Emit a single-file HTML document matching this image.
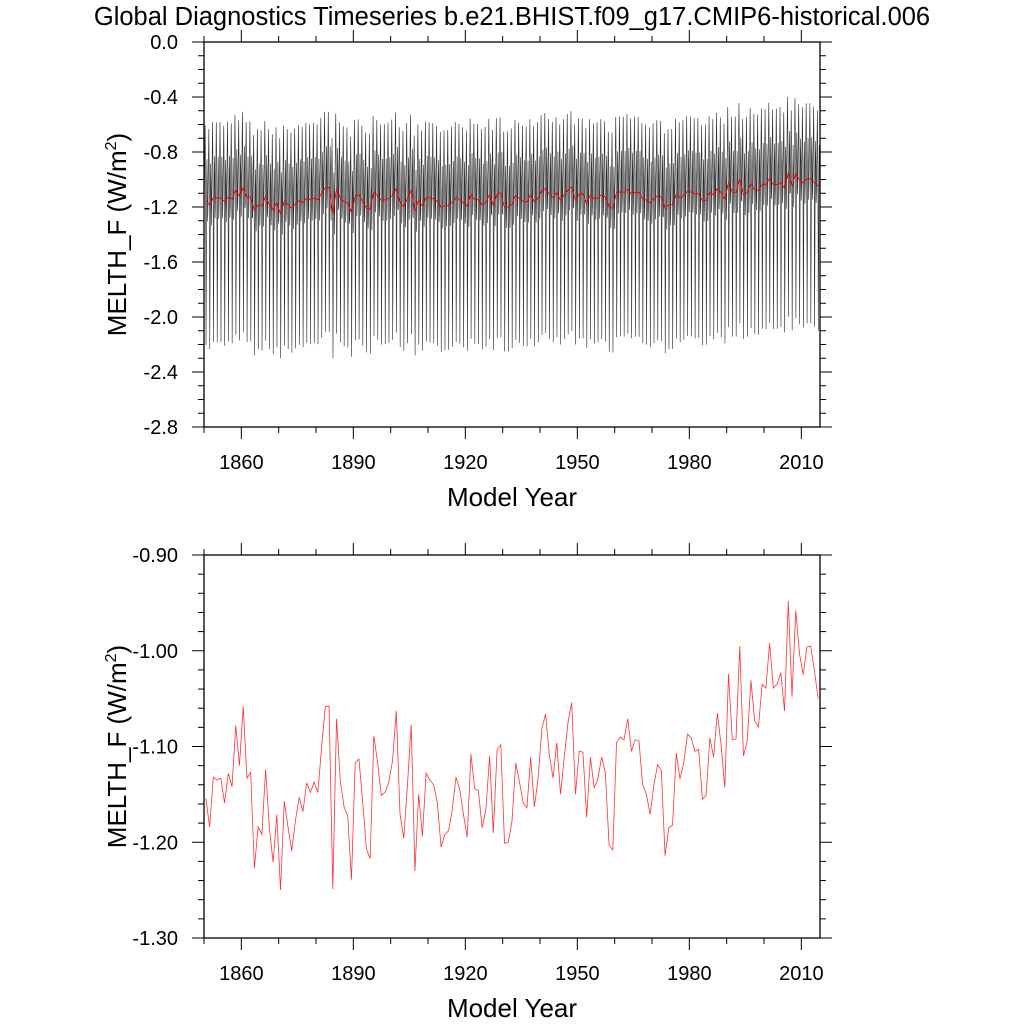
<!DOCTYPE html>
<html><head><meta charset="utf-8"><style>
html,body{margin:0;padding:0;background:#fff;}
svg{display:block;font-family:"Liberation Sans",sans-serif;}
</style></head><body>
<svg id="svg" width="1024" height="1024" viewBox="0 0 1024 1024" xmlns="http://www.w3.org/2000/svg">
<text x="512" y="25" font-size="25.5" text-anchor="middle">Global Diagnostics Timeseries b.e21.BHIST.f09_g17.CMIP6-historical.006</text>
<g id="top"></g>
<g id="bot"></g>
</svg>
<script>
const years = [];
for (let y = 1850; y <= 2014; y++) years.push(y);
const annualMean = [
-1.154,-1.184,-1.132,-1.135,-1.133,-1.159,-1.128,-1.142,-1.078,-1.120,
-1.058,-1.133,-1.127,-1.227,-1.184,-1.192,-1.124,-1.184,-1.221,-1.171,
-1.250,-1.157,-1.184,-1.209,-1.177,-1.153,-1.168,-1.138,-1.148,-1.137,
-1.148,-1.101,-1.058,-1.058,-1.249,-1.071,-1.135,-1.163,-1.172,-1.239,
-1.117,-1.113,-1.158,-1.207,-1.217,-1.089,-1.117,-1.151,-1.148,-1.137,
-1.115,-1.063,-1.170,-1.196,-1.140,-1.077,-1.230,-1.150,-1.194,-1.128,
-1.135,-1.140,-1.159,-1.205,-1.192,-1.188,-1.166,-1.132,-1.145,-1.171,
-1.195,-1.108,-1.144,-1.146,-1.185,-1.166,-1.110,-1.190,-1.104,-1.098,
-1.201,-1.200,-1.178,-1.117,-1.137,-1.159,-1.164,-1.111,-1.163,-1.133,
-1.081,-1.066,-1.109,-1.133,-1.096,-1.150,-1.111,-1.075,-1.054,-1.150,
-1.105,-1.106,-1.174,-1.111,-1.143,-1.134,-1.111,-1.127,-1.203,-1.208,
-1.096,-1.090,-1.093,-1.071,-1.105,-1.093,-1.094,-1.140,-1.150,-1.171,
-1.140,-1.119,-1.125,-1.214,-1.185,-1.182,-1.107,-1.134,-1.117,-1.087,
-1.091,-1.105,-1.103,-1.155,-1.151,-1.091,-1.111,-1.065,-1.098,-1.143,
-1.024,-1.093,-1.092,-0.995,-1.110,-1.094,-1.031,-1.073,-1.080,-1.035,
-1.039,-0.992,-1.039,-1.035,-1.023,-1.063,-0.948,-1.048,-0.958,-1.003,
-1.025,-0.996,-0.995,-1.021,-1.050];
// monthly anomaly about annual mean (estimated seasonal cycle)
const monthlyCycle = [-0.05,0.15,0.35,0.55,0.30,-0.10,-1.05,-0.55,0.10,0.30,0.15,-0.15];
const xTickLabels = ["1860","1890","1920","1950","1980","2010"];
const xTickValues = [1860,1890,1920,1950,1980,2010];
const topYTicks = [0.0,-0.4,-0.8,-1.2,-1.6,-2.0,-2.4,-2.8];
const topYLabels = ["0.0","-0.4","-0.8","-1.2","-1.6","-2.0","-2.4","-2.8"];
const botYTicks = [-0.90,-1.00,-1.10,-1.20,-1.30];
const botYLabels = ["-0.90","-1.00","-1.10","-1.20","-1.30"];

const NS = "http://www.w3.org/2000/svg";
function mk(tag, attrs, parent) {
  const e = document.createElementNS(NS, tag);
  for (const k in attrs) e.setAttribute(k, attrs[k]);
  parent.appendChild(e);
  return e;
}
const X0 = 204, X1 = 820, XMIN = 1850, XMAX = 2015;
function xs(v) { return X0 + (v - XMIN) / (XMAX - XMIN) * (X1 - X0); }

function panel(g, top, bottom, ymax, ymin, yTicks, yLabels, minorStep, name) {
  const ys = v => top + (ymax - v) / (ymax - ymin) * (bottom - top);
  const fr = mk('rect', {x: X0, y: top, width: X1 - X0, height: bottom - top, fill: 'none', stroke: '#000', 'stroke-width': 1.3}, g);
  
  
  for (let yr = 1850; yr <= 2015; yr += 10) {
    const major = (yr - 1860) % 30 === 0;
    const L = major ? 12 : 6;
    const x = xs(yr);
    const t1 = mk('line', {x1: x, x2: x, y1: bottom, y2: bottom + L, stroke: '#000', 'stroke-width': 1}, g);
    
    
    const t2 = mk('line', {x1: x, x2: x, y1: top, y2: top - L, stroke: '#000', 'stroke-width': 1}, g);
    
    
  }
  xTickValues.forEach((v, i) => {
    const t = mk('text', {x: xs(v), y: bottom + 42, 'font-size': 20, 'text-anchor': 'middle'}, g);
    t.textContent = xTickLabels[i];
    
    
  });
  const n = Math.round((ymax - ymin) / minorStep);
  for (let i = 0; i <= n; i++) {
    const v = ymax - i * minorStep;
    const y = ys(v);
    const major = yTicks.some(t => Math.abs(t - v) < 1e-6);
    const L = major ? 12 : 6;
    const a = mk('line', {x1: X0 - L, x2: X0, y1: y, y2: y, stroke: '#000', 'stroke-width': 1}, g);
    
    
    const b = mk('line', {x1: X1, x2: X1 + L, y1: y, y2: y, stroke: '#000', 'stroke-width': 1}, g);
    
    
  }
  yTicks.forEach((v, i) => {
    const t = mk('text', {x: 178, y: ys(v) + 7, 'font-size': 20, 'text-anchor': 'end'}, g);
    t.textContent = yLabels[i];
    
    
  });
  const xl = mk('text', {x: 512, y: bottom + 79, 'font-size': 26, 'text-anchor': 'middle'}, g);
  xl.textContent = 'Model Year';
  
  
  const cy = (top + bottom) / 2;
  const yl = mk('text', {x: 0, y: 0, 'font-size': 26, 'text-anchor': 'middle', transform: 'translate(126,' + cy + ') rotate(-90)'}, g);
  yl.innerHTML = 'MELTH_F (W/m<tspan dy="-10" font-size="16">2</tspan><tspan dy="10">)</tspan>';
  
  
  return ys;
}

const gt = document.getElementById('top');
const ysT = panel(gt, 42, 427, 0.0, -2.8, topYTicks, topYLabels, 0.1, 'top');
let d = '';
years.forEach((yr, i) => {
  monthlyCycle.forEach((c, m) => {
    const x = xs(yr + (m + 0.5) / 12), y = ysT(annualMean[i] + c);
    d += (d ? 'L' : 'M') + x.toFixed(2) + ',' + y.toFixed(2);
  });
});
const ml = mk('path', {d: d, fill: 'none', stroke: '#000', 'stroke-width': 0.6, 'stroke-opacity': 0.85}, gt);


let d2 = '';
years.forEach((yr, i) => { d2 += (i ? 'L' : 'M') + xs(yr + 0.5).toFixed(2) + ',' + ysT(annualMean[i]).toFixed(2); });
const al = mk('path', {d: d2, fill: 'none', stroke: '#e00', 'stroke-width': 0.9}, gt);



const gb = document.getElementById('bot');
const ysB = panel(gb, 555, 938, -0.9, -1.3, botYTicks, botYLabels, 0.02, 'bottom');
let d3 = '';
years.forEach((yr, i) => { d3 += (i ? 'L' : 'M') + xs(yr + 0.5).toFixed(2) + ',' + ysB(annualMean[i]).toFixed(2); });
const bl = mk('path', {d: d3, fill: 'none', stroke: '#f33', 'stroke-width': 0.8}, gb);


</script>
</body></html>
